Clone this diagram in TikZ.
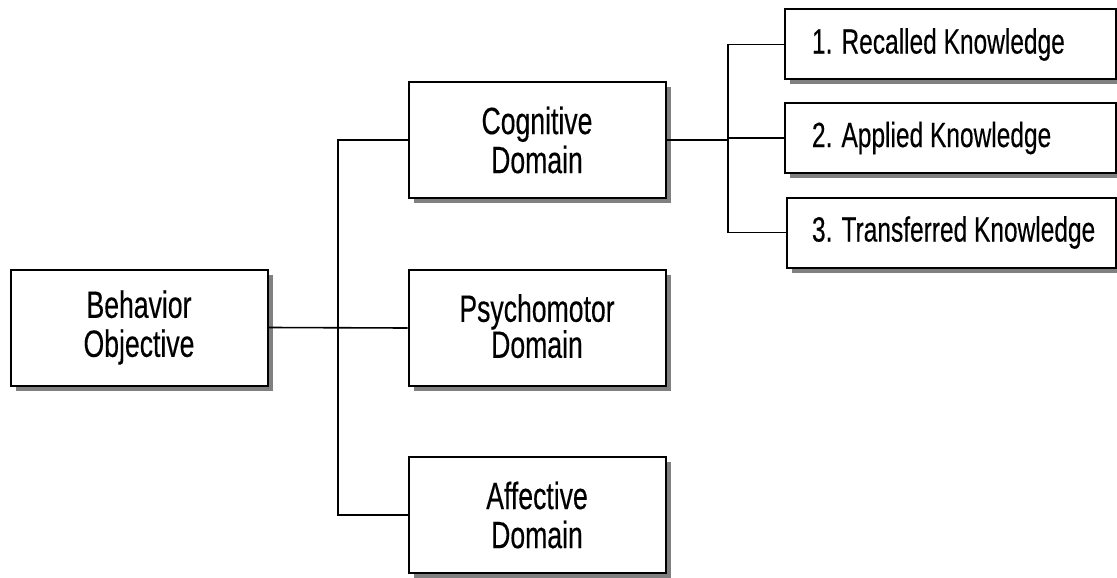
\documentclass[tikz,border=0pt]{standalone}
\usepackage{fontspec}
\setmainfont{Liberation Sans}[FakeStretch=0.7, FakeBold=0.3]
\usetikzlibrary{shadows}
\begin{document}
\begin{tikzpicture}[x=1pt,y=-1pt,
  box/.style={draw=black, line width=2pt, fill=white, rectangle,
    inner sep=0pt,
    drop shadow={shadow xshift=5pt, shadow yshift=-5pt, fill=black!50, opacity=1}},
  bigbox/.style={box, align=center, minimum width=257pt, minimum height=116pt,
    font=\fontsize{38}{39}\selectfont},
  kbox/.style={box, align=flush left, text width=331pt, minimum height=70pt,
    font=\fontsize{35}{36}\selectfont},
  link/.style={draw=black, line width=1.6pt}]
\useasboundingbox (0,0) rectangle (1117,578);

% level 1 and 2
\node[bigbox] (beh) at (139,327.5) {Behavior\\Objective};
\node[bigbox] (cog) at (537,140) {Cognitive\\Domain};
\node[bigbox] (psy) at (537,328) {\raisebox{4pt}{Psychomotor}\\[-3pt]\raisebox{4pt}{Domain}};
\node[bigbox] (aff) at (537,515) {Affective\\Domain};

% level 3
\node[kbox] (k1) at (950.5,44.5) {\hspace*{27pt}1. Recalled Knowledge};
\node[kbox] (k2) at (950.5,138) {\hspace*{27pt}2. Applied Knowledge};
\node[kbox, text width=329pt] (k3) at (951.5,232.5) {\hspace*{25pt}3. Transferred Knowledge};

% trunks
\coordinate (ta) at (338,0);
\coordinate (tb) at (728,0);

\draw[link] (beh.east) -- (psy.west);
\draw[link] (cog.west) -- (cog.west -| ta) -- (aff.west -| ta) -- (aff.west);
\draw[link] (cog.east) -- (cog.east -| tb);
\draw[link] (k1.west) -- (k1.west -| tb) -- (k3.west -| tb) -- (k3.west);
\draw[link] (k2.west) -- (k2.west -| tb);
\end{tikzpicture}
\end{document}
